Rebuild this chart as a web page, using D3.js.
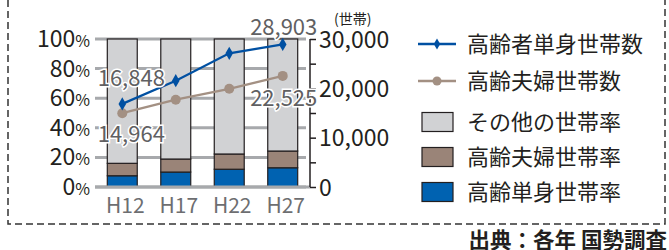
<!DOCTYPE html>
<html>
<head>
<meta charset="utf-8">
<script src="https://cdn.jsdelivr.net/npm/d3@7"></script>
<style>
  html, body { margin: 0; padding: 0; background: #fff; }
  svg { display: block; font-family: "Noto Sans CJK JP", "Noto Sans", sans-serif; }
</style>
</head>
<body>
<div id="chart"></div>
<script>
// data
const years = ["H12", "H17", "H22", "H27"];
const singleRate = [7.6, 10.1, 12.0, 13.0];   // 高齢単身世帯率 (%)
const coupleRate = [8.4, 8.8, 10.3, 11.3];    // 高齢夫婦世帯率 (%)
const singleCount = [16848, 21550, 27100, 28903]; // 高齢者単身世帯数
const coupleCount = [14964, 17700, 19900, 22525]; // 高齢夫婦世帯数
const pctTicks = [0, 20, 40, 60, 80, 100];
const cntTicks = [0, 10000, 20000, 30000];

const W = 669, H = 250;
const svg = d3.select("#chart").append("svg")
  .attr("width", W).attr("height", H);

const x = d3.scaleBand().domain(years).range([95, 310])
  .paddingInner(0.44).paddingOuter(0.23);
const yPct = d3.scaleLinear().domain([0, 100]).range([187, 39]);
const yCnt = d3.scaleLinear().domain([0, 30000]).range([187, 39]);

// dashed frame (top edge cut off in the original)
svg.append("path")
  .attr("d", "M8,0 V224 H665 V0")
  .attr("fill", "none").attr("stroke", "#333")
  .attr("stroke-width", 1.5).attr("stroke-dasharray", "7,4");

// gridlines
svg.append("g").selectAll("line").data(pctTicks).join("line")
  .attr("x1", 95).attr("x2", 306)
  .attr("y1", d => yPct(d)).attr("y2", d => yPct(d))
  .attr("stroke", "#a7a9ac").attr("stroke-width", 3);

// left tick labels
const lt = svg.append("g").selectAll("text").data(pctTicks).join("text")
  .attr("x", 90).attr("y", d => yPct(d) + 8)
  .attr("text-anchor", "end").attr("fill", "#231f20").attr("font-size", 23);
lt.append("tspan").text(d => d);
lt.append("tspan").attr("font-size", 16).text("%");

// stacked bars
const stack = years.map((k, i) => [
  { k, y0: 0, y1: singleRate[i], c: "#0062b1" },
  { k, y0: singleRate[i], y1: singleRate[i] + coupleRate[i], c: "#9a8478" },
  { k, y0: singleRate[i] + coupleRate[i], y1: 100, c: "#d1d2d4" }
]).flat();
svg.append("g").selectAll("rect").data(stack).join("rect")
  .attr("x", d => x(d.k)).attr("width", x.bandwidth())
  .attr("y", d => yPct(d.y1)).attr("height", d => yPct(d.y0) - yPct(d.y1))
  .attr("fill", d => d.c).attr("stroke", "#231f20").attr("stroke-width", 1.2);

// bottom baseline over bars
svg.append("line").attr("x1", 95).attr("x2", 310)
  .attr("y1", yPct(0)).attr("y2", yPct(0))
  .attr("stroke", "#a7a9ac").attr("stroke-width", 3);

// x labels
svg.append("g").selectAll("text").data(years).join("text")
  .attr("x", d => x(d) + x.bandwidth() / 2 + 3).attr("y", 213)
  .attr("text-anchor", "middle").attr("fill", "#6d6e71").attr("font-size", 21)
  .text(d => d);

// right axis
const ra = svg.append("g").attr("transform", "translate(310,0)")
  .call(d3.axisRight(yCnt).tickValues(d3.range(0, 30001, 5000)).tickSize(6)
    .tickPadding(3).tickFormat(d => cntTicks.includes(d) ? d3.format(",")(d) : ""));
ra.select(".domain").attr("stroke", "#231f20").attr("stroke-width", 1.5)
  .attr("d", `M0,${yCnt(30000)}V${yCnt(0)}`);
ra.selectAll(".tick line").attr("stroke", "#231f20").attr("stroke-width", 1.5);
ra.selectAll(".tick text").attr("font-size", 23).attr("fill", "#231f20")
  .attr("font-family", "\"Noto Sans CJK JP\", sans-serif").attr("dy", "0.36em");

svg.append("text").attr("x", 334).attr("y", 24).attr("font-size", 14)
  .attr("fill", "#231f20").text("(世帯)");

// lines
const lineGen = vals => d3.line().x((d, i) => x(years[i]) + x.bandwidth() / 2)
  .y(d => yCnt(d))(vals);
svg.append("path").attr("d", lineGen(coupleCount)).attr("fill", "none")
  .attr("stroke", "#a39083").attr("stroke-width", 2.2);
svg.append("g").selectAll("circle").data(coupleCount).join("circle")
  .attr("cx", (d, i) => x(years[i]) + x.bandwidth() / 2).attr("cy", d => yCnt(d))
  .attr("r", 5).attr("fill", "#a39083");
svg.append("path").attr("d", lineGen(singleCount)).attr("fill", "none")
  .attr("stroke", "#0050a2").attr("stroke-width", 2.2);
svg.append("g").selectAll("path").data(singleCount).join("path")
  .attr("d", d3.symbol(d3.symbolDiamond, 50))
  .attr("transform", (d, i) => `translate(${x(years[i]) + x.bandwidth() / 2},${yCnt(d)})`)
  .attr("fill", "#0050a2");

// value labels
const labels = [
  { v: singleCount[0], i: 0, dx: 9, dy: -18 },
  { v: coupleCount[0], i: 0, dx: 9, dy: 29 },
  { v: singleCount[3], i: 3, dx: 1, dy: -9 },
  { v: coupleCount[3], i: 3, dx: 1, dy: 30 }
];
svg.append("g").selectAll("text").data(labels).join("text")
  .attr("x", d => x(years[d.i]) + x.bandwidth() / 2 + d.dx)
  .attr("y", d => yCnt(d.v) + d.dy)
  .attr("text-anchor", "middle").attr("font-size", 22).attr("fill", "#606062")
  .attr("stroke", "#fff").attr("stroke-width", 3).attr("paint-order", "stroke")
  .text(d => d3.format(",")(d.v));

// legend
const lg = svg.append("g");
const lineItems = [
  { t: "高齢者単身世帯数", c: "#0050a2", y: 44, m: "d" },
  { t: "高齢夫婦世帯数", c: "#a39083", y: 81, m: "c" }
];
lineItems.forEach(d => {
  lg.append("line").attr("x1", 418).attr("x2", 456).attr("y1", d.y).attr("y2", d.y)
    .attr("stroke", d.c).attr("stroke-width", 2.4);
  if (d.m === "d") lg.append("path").attr("d", d3.symbol(d3.symbolDiamond, 36))
    .attr("transform", `translate(437,${d.y})`).attr("fill", d.c);
  else lg.append("circle").attr("cx", 437).attr("cy", d.y).attr("r", 4.5).attr("fill", d.c);
  lg.append("text").attr("x", 467).attr("y", d.y + 8).attr("font-size", 22)
    .attr("fill", "#231f20").text(d.t);
});
const boxItems = [
  { t: "その他の世帯率", c: "#d1d2d4", y: 122 },
  { t: "高齢夫婦世帯率", c: "#9a8478", y: 157 },
  { t: "高齢単身世帯率", c: "#0062b1", y: 192 }
];
boxItems.forEach(d => {
  lg.append("rect").attr("x", 422).attr("y", d.y - 9.5).attr("width", 31).attr("height", 19)
    .attr("fill", d.c).attr("stroke", "#231f20").attr("stroke-width", 1.2);
  lg.append("text").attr("x", 467).attr("y", d.y + 8).attr("font-size", 22)
    .attr("fill", "#231f20").text(d.t);
});

// source
svg.append("text").attr("x", 667).attr("y", 248).attr("text-anchor", "end")
  .attr("font-size", 21.5).attr("font-weight", "bold").attr("fill", "#231f20")
  .text("出典：各年 国勢調査");
</script>
</body>
</html>
